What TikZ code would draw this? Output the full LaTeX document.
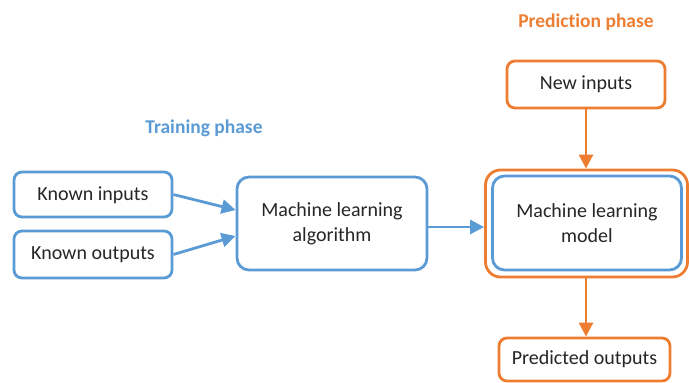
\documentclass[tikz,border=0pt]{standalone}
\usepackage{fontspec}
\setmainfont{Carlito}[Ligatures=CommonOff]
\usetikzlibrary{arrows.meta}
\definecolor{mlblue}{HTML}{5B9BD5}
\definecolor{mlorange}{HTML}{ED7D31}
\definecolor{mltext}{HTML}{262626}
\begin{document}
\begin{tikzpicture}[x=1pt,y=-1pt,
  box/.style={draw, line width=2.8pt, rounded corners=8pt, fill=white, text=mltext,
    font=\fontsize{20}{25}\selectfont, align=center, inner sep=0pt},
  bluebox/.style={box, draw=mlblue},
  orangebox/.style={box, draw=mlorange},
  bluearrow/.style={draw=mlblue, line width=2.8pt, -{Triangle[length=14pt,width=14pt]}},
  orangearrow/.style={draw=mlorange, line width=2.8pt, -{Triangle[length=14pt,width=14pt]}},
  phase/.style={font=\bfseries\fontsize{19.5}{23}\selectfont}
]
\useasboundingbox (0,0) rectangle (689,383);
\node[phase, text=mlblue] (train) at (204,128) {Training phase};
\node[phase, text=mlorange] (pred) at (586,22) {Prediction phase};

\node[bluebox, minimum width=158pt, minimum height=45pt, text depth=1pt] (kin) at (93,194.5) {Known inputs};
\node[bluebox, minimum width=158pt, minimum height=47pt] (kout) at (93,254.5) {Known outputs};
\node[bluebox, minimum width=190pt, minimum height=93pt, rounded corners=12pt] (algo) at (332,223.5) {Machine learning\\algorithm};

\node[orangebox, minimum width=202pt, minimum height=107pt, rounded corners=15pt] (outer) at (586.5,223.5) {};
\node[bluebox, minimum width=189pt, minimum height=94pt, rounded corners=12pt] (model) at (587,223) {Machine learning\\model};

\node[orangebox, minimum width=158pt, minimum height=47pt] (newin) at (586,84.5) {New inputs};
\node[orangebox, minimum width=171pt, minimum height=43pt] (predout) at (584.5,359.5) {Predicted outputs};

\draw[bluearrow] (kin.east) -- (algo.west |- 0,210);
\draw[bluearrow] (kout.east) -- (algo.west |- 0,236);
\draw[bluearrow] (algo.east |- 0,227) -- (outer.west |- 0,227);
\draw[orangearrow] (newin.south -| 586,0) -- (outer.north -| 586,0);
\draw[orangearrow] (outer.south -| 586,0) -- (predout.north -| 586,0);
\end{tikzpicture}
\end{document}
